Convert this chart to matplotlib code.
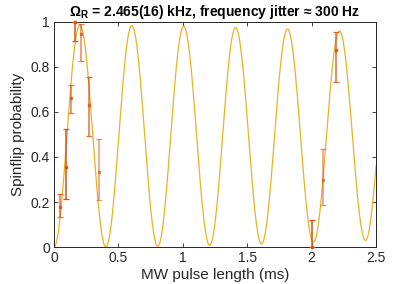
import numpy as np
import matplotlib.pyplot as plt

plt.rcParams['font.family'] = ['Liberation Sans', 'DejaVu Sans']
plt.rcParams['mathtext.fontset'] = 'custom'
plt.rcParams['mathtext.rm'] = 'Liberation Sans'
plt.rcParams['mathtext.bf'] = 'Liberation Sans:bold'
plt.rcParams['mathtext.it'] = 'Liberation Sans:italic'

# measured points: pulse length (ms), spinflip probability, lower/upper error
t_data = [0.047, 0.091, 0.13, 0.166, 0.208, 0.27, 0.35, 2.0, 2.09, 2.186]
p_data = [0.18, 0.357, 0.662, 0.999, 0.946, 0.63, 0.333, 0.0, 0.30, 0.875]
err_lo = [0.047, 0.144, 0.065, 0.082, 0.119, 0.138, 0.123, 0.0, 0.111, 0.142]
err_hi = [0.057, 0.168, 0.058, 0.0, 0.044, 0.123, 0.145, 0.12, 0.136, 0.079]
alphas = [0.8, 1.0, 0.75, 1.0, 0.7, 0.8, 0.6, 1.0, 0.6, 0.85]

# fit parameters from the title
rabi_khz = 2.465
jitter_khz = 0.3

# fitted model: Rabi oscillation averaged over a gaussian detuning jitter
t = np.linspace(0, 2.5, 1500)
delta = np.linspace(-4, 4, 201) * jitter_khz
w = np.exp(-0.5 * (delta / jitter_khz) ** 2)
w /= w.sum()
gen = np.sqrt(rabi_khz ** 2 + delta ** 2)
amp = rabi_khz ** 2 / gen ** 2
p_fit = (w[:, None] * amp[:, None] * np.sin(np.pi * gen[:, None] * t[None, :]) ** 2).sum(axis=0)

fig = plt.figure(figsize=(4.15, 2.84), dpi=100)
ax = fig.add_axes([0.130, 0.130, 0.776, 0.793])

ax.plot(t, p_fit, color='#EDB120', lw=0.9, zorder=2)
for i in range(len(t_data)):
    ax.errorbar(t_data[i], p_data[i], yerr=[[err_lo[i]], [err_hi[i]]],
                fmt='s', ms=1.5, color='#D95319', ecolor='#D95319',
                elinewidth=1.1, capsize=2.2, capthick=0.9,
                alpha=alphas[i], zorder=3, clip_on=False)

ax.set_xlim(0, 2.5)
ax.set_ylim(0, 1)
ax.set_xticks([0, 0.5, 1, 1.5, 2, 2.5])
ax.set_xticklabels(['0', '0.5', '1', '1.5', '2', '2.5'])
ax.set_yticks([0, 0.2, 0.4, 0.6, 0.8, 1])
ax.set_yticklabels(['0', '0.2', '0.4', '0.6', '0.8', '1'])
ax.tick_params(direction='in', top=True, right=True, length=3, width=0.6,
               labelsize=10, colors='#262626', pad=3)
for s in ax.spines.values():
    s.set_color('#262626')
    s.set_linewidth(0.7)

ax.set_xlabel('MW pulse length (ms)', fontsize=11, color='#262626', labelpad=2)
ax.set_ylabel('Spinflip probability', fontsize=11, color='#262626', labelpad=4)
ax.set_title(r'$\mathbf{\Omega_R}$ = 2.465(16) kHz, frequency jitter ≈ 300 Hz',
             fontsize=10, fontweight='bold', pad=4)

fig.savefig('out.png', dpi=100)
